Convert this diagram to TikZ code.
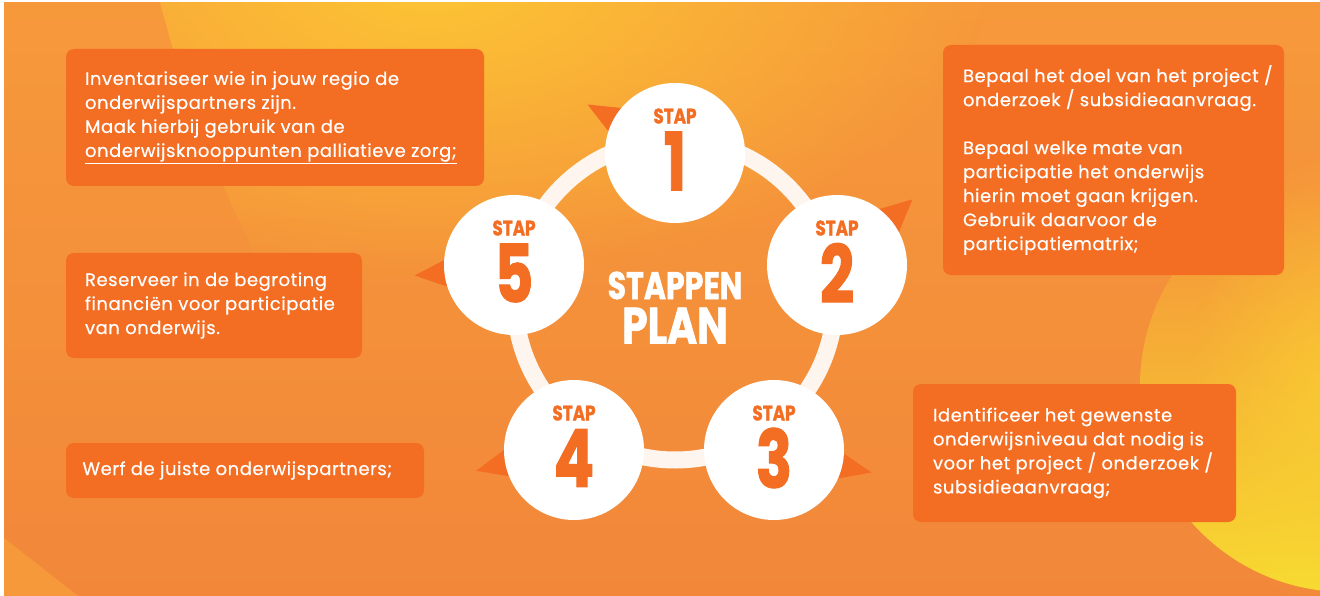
\documentclass[tikz,border=0pt]{standalone}
\usepackage{fontspec}
\setmainfont{Poppins}
\newfontfamily\tekstfont{Poppins}[LetterSpace=3, FakeBold=0.5]
\newfontfamily\stapfont{Poppins}[FakeBold=1.5]
\usepackage{tikz}
\usetikzlibrary{calc, fadings, positioning}
\definecolor{staporanje}{HTML}{F36D22}
\definecolor{ringwit}{HTML}{FEF6EE}
\definecolor{bgtop}{HTML}{F6993B}
\definecolor{bgbottom}{HTML}{F2873A}
\definecolor{bggeel}{HTML}{FDC534}
\definecolor{bglicht}{HTML}{F8DB31}
\tikzfading[name=gloed, inner color=transparent!0, outer color=transparent!100]
\tikzfading[name=onder, top color=transparent!100, bottom color=transparent!0]
\tikzset{
    achtergrond/.style={top color=bgtop, bottom color=bgbottom},
    gloed/.style={fill=bggeel, path fading=gloed},
    ring/.style={draw=ringwit, line width=17pt},
    pointer/.style={fill=staporanje},
    stapcirkel/.style={circle, fill=white, minimum size=140pt, inner sep=0pt},
    staplabel/.style={text=staporanje, inner sep=0pt, font=\stapfont\bfseries\fontsize{21}{21}\selectfont},
    stapnummer/.style={text=staporanje, inner sep=0pt, font=\stapfont\bfseries\fontsize{80}{80}\selectfont},
    titel/.style={text=white, inner sep=0pt, font=\stapfont\bfseries},
    tekstvak/.style={fill=staporanje, rounded corners=8pt, inner sep=0pt},
    tekst/.style={anchor=west, align=left, text=white, inner sep=0pt, font=\tekstfont\fontsize{18}{24}\selectfont}
}
\begin{document}
\begin{tikzpicture}[x=1pt, y=-1pt]
    \useasboundingbox (0,0) rectangle (1320,596);
    \fill[achtergrond] (4,3) rectangle (1320,596);
    \begin{scope}
        \clip (4,3) rectangle (1320,596);
        \fill[bgtop] (4,538) -- (78,596) -- (4,596) -- cycle;
        \begin{scope}
            \clip (1373,-313) circle[radius=1253pt];
            \fill[gloed] (430,-20) ellipse[x radius=560pt, y radius=300pt];
        \end{scope}
        \fill[gloed, opacity=0.7] (1330,380) ellipse[x radius=140pt, y radius=230pt];
        \fill[bglicht, path fading=onder] (1346,386) circle[radius=206pt];
    \end{scope}

    \draw[ring] (675,300) circle[radius=160pt];

    \coordinate (c1) at (675,153);
    \coordinate (c2) at (837,265);
    \coordinate (c3) at (774,450);
    \coordinate (c4) at (574,450);
    \coordinate (c5) at (514,265);

    \fill[pointer] ($(c1)+(140:70pt)$) -- ($(c1)+(151:100pt)$) -- ($(c1)+(162:70pt)$) -- cycle;
    \fill[pointer] ($(c2)+(28:70pt)$) -- ($(c2)+(41:100pt)$) -- ($(c2)+(53:70pt)$) -- cycle;
    \fill[pointer] ($(c3)+(-24:70pt)$) -- ($(c3)+(-13:100pt)$) -- ($(c3)+(-3:70pt)$) -- cycle;
    \fill[pointer] ($(c4)+(180:70pt)$) -- ($(c4)+(192:100pt)$) -- ($(c4)+(202:70pt)$) -- cycle;
    \fill[pointer] ($(c5)+(176:70pt)$) -- ($(c5)+(186:100pt)$) -- ($(c5)+(198:70pt)$) -- cycle;

    \node[stapcirkel] (s1) at (c1) {};
    \node[stapcirkel] (s2) at (c2) {};
    \node[stapcirkel] (s3) at (c3) {};
    \node[stapcirkel] (s4) at (c4) {};
    \node[stapcirkel] (s5) at (c5) {};

    \node[staplabel] (l1) at ([yshift=37pt]s1.center) {\scalebox{0.8}[1]{STAP}};
    \node[staplabel] (l2) at ([yshift=37pt]s2.center) {\scalebox{0.8}[1]{STAP}};
    \node[staplabel] (l3) at ([yshift=37pt]s3.center) {\scalebox{0.8}[1]{STAP}};
    \node[staplabel] (l4) at ([yshift=37pt]s4.center) {\scalebox{0.8}[1]{STAP}};
    \node[staplabel] (l5) at ([yshift=37pt]s5.center) {\scalebox{0.8}[1]{STAP}};

    \node[stapnummer] (n1) at ([yshift=-8pt]s1.center) {\scalebox{0.75}[1]{1}};
    \node[stapnummer] (n2) at ([yshift=-8pt]s2.center) {\scalebox{0.75}[1]{2}};
    \node[stapnummer] (n3) at ([yshift=-8pt]s3.center) {\scalebox{0.75}[1]{3}};
    \node[stapnummer] (n4) at ([yshift=-8pt]s4.center) {\scalebox{0.75}[1]{4}};
    \node[stapnummer] (n5) at ([yshift=-8pt]s5.center) {\scalebox{0.75}[1]{5}};

    \node[titel] (stappen) at (675,285.5) {\fontsize{38.5}{38.5}\selectfont\scalebox{0.78}[1]{STAPPEN}};
    \node[titel, below=8pt of stappen] (plan) {\fontsize{51}{51}\selectfont\scalebox{0.8}[1]{PLAN}};

    \node[tekstvak, minimum width=418pt, minimum height=137pt] (b1) at (275,117.5) {};
    \node[tekst] (t1) at ([xshift=19pt]b1.west) {Inventariseer wie in jouw regio de\\onderwijspartners zijn.\\Maak hierbij gebruik van de\\\underline{onderwijsknooppunten palliatieve zorg;}};

    \node[tekstvak, minimum width=341pt, minimum height=230pt] (b2) at (1113.5,160) {};
    \node[tekst] (t2) at ([xshift=20pt]b2.west) {Bepaal het doel van het project /\\onderzoek / subsidieaanvraag.\\[24pt]Bepaal welke mate van\\participatie het onderwijs\\hierin moet gaan krijgen.\\Gebruik daarvoor de\\participatiematrix;};

    \node[tekstvak, minimum width=323pt, minimum height=138pt] (b3) at (1074.5,453) {};
    \node[tekst] (t3) at ([xshift=20pt]b3.west) {Identificeer het gewenste\\onderwijsniveau dat nodig is\\voor het project / onderzoek /\\subsidieaanvraag;};

    \node[tekstvak, minimum width=358pt, minimum height=55pt] (b4) at (245,470.5) {};
    \node[tekst] (t4) at ([xshift=16.5pt]b4.west) {Werf de juiste onderwijspartners;};

    \node[tekstvak, minimum width=296pt, minimum height=105pt] (b5) at (214,305.5) {};
    \node[tekst] (t5) at ([xshift=19pt]b5.west) {Reserveer in de begroting\\financiën voor participatie\\van onderwijs.};
\end{tikzpicture}
\end{document}
